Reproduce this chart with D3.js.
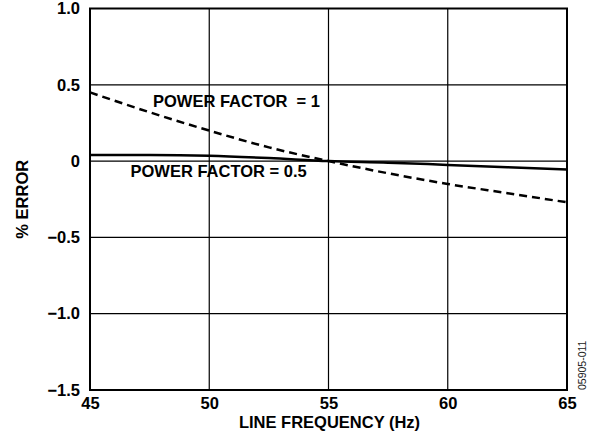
<!DOCTYPE html>
<html>
<head>
<meta charset="utf-8">
<script src="https://cdn.jsdelivr.net/npm/d3@7"></script>
<style>
  body { margin: 0; background: #fff; }
  text { font-family: "Liberation Sans", Arial, sans-serif; font-weight: bold; fill: #000; }
</style>
</head>
<body>
<svg id="chart" width="594" height="445"></svg>
<script>
// line frequency (Hz) readings
var freq = [45, 47.5, 50, 52.5, 55, 57.5, 60, 62.5, 65];
// % error, power factor = 1 (dashed)
var errPF1 = [0.45, 0.32, 0.2, 0.09, 0.0, -0.08, -0.15, -0.21, -0.27];
// % error, power factor = 0.5 (solid)
var errPF05 = [0.04, 0.04, 0.035, 0.02, 0.0, -0.01, -0.025, -0.04, -0.055];

var xTicks = [45, 50, 55, 60, 65];
var yTicks = [1.0, 0.5, 0, -0.5, -1.0, -1.5];
var yTickLabels = ["1.0", "0.5", "0", "\u22120.5", "\u22121.0", "\u22121.5"];

var margin = { left: 90, right: 27, top: 8.5, bottom: 55 };
var width = 594, height = 445;
var fontSize = "16.5px";

var svg = d3.select("#chart");

var x = d3.scaleLinear().domain([45, 65]).range([margin.left, width - margin.right]);
var y = d3.scaleLinear().domain([-1.5, 1.0]).range([height - margin.bottom, margin.top]);

// grid
var grid = svg.append("g");
grid.selectAll("line.v")
  .data(xTicks.slice(1, -1))
  .enter()
  .append("line")
  .attr("x1", function (d) { return x(d); })
  .attr("x2", function (d) { return x(d); })
  .attr("y1", y(1.0))
  .attr("y2", y(-1.5))
  .attr("stroke", "#000")
  .attr("stroke-width", 1.2);
grid.selectAll("line.h")
  .data(yTicks.slice(1, -1))
  .enter()
  .append("line")
  .attr("x1", x(45))
  .attr("x2", x(65))
  .attr("y1", function (d) { return y(d); })
  .attr("y2", function (d) { return y(d); })
  .attr("stroke", "#000")
  .attr("stroke-width", 1.2);

// curves
var line = d3.line().curve(d3.curveMonotoneX)
  .x(function (d) { return x(d[0]); })
  .y(function (d) { return y(d[1]); });

svg.append("path")
  .datum(d3.zip(freq, errPF1))
  .attr("fill", "none")
  .attr("stroke", "#000")
  .attr("stroke-width", 2.5)
  .attr("stroke-dasharray", "8,5")
  .attr("d", line);

svg.append("path")
  .datum(d3.zip(freq, errPF05))
  .attr("fill", "none")
  .attr("stroke", "#000")
  .attr("stroke-width", 2.5)
  .attr("d", line);

// frame
svg.append("rect")
  .attr("x", x(45))
  .attr("y", y(1.0))
  .attr("width", x(65) - x(45))
  .attr("height", y(-1.5) - y(1.0))
  .attr("fill", "none")
  .attr("stroke", "#000")
  .attr("stroke-width", 2);

// axes
var xAxis = d3.axisBottom(x).tickValues(xTicks).tickSize(0).tickPadding(7);
var gx = svg.append("g")
  .attr("transform", "translate(0," + y(-1.5) + ")")
  .call(xAxis);
gx.select(".domain").remove();
gx.selectAll("text").style("font-size", fontSize).attr("fill", "#000");

var yAxis = d3.axisLeft(y).tickValues(yTicks).tickSize(0).tickPadding(10)
  .tickFormat(function (d, i) { return yTickLabels[i]; });
var gy = svg.append("g")
  .attr("transform", "translate(" + x(45) + ",0)")
  .call(yAxis);
gy.select(".domain").remove();
gy.selectAll("text").style("font-size", fontSize).attr("fill", "#000");

// titles
svg.append("text")
  .attr("x", (x(45) + x(65)) / 2 + 1)
  .attr("y", 428)
  .attr("text-anchor", "middle")
  .style("font-size", fontSize)
  .text("LINE FREQUENCY (Hz)");

svg.append("text")
  .attr("transform", "translate(28," + (y(1.0) + y(-1.5)) / 2 + ") rotate(-90)")
  .attr("text-anchor", "middle")
  .style("font-size", fontSize)
  .text("% ERROR");

// series labels
svg.append("text")
  .attr("x", 153)
  .attr("y", 106.5)
  .style("font-size", fontSize)
  .style("white-space", "pre")
  .text("POWER FACTOR  = 1");

svg.append("text")
  .attr("x", 130.5)
  .attr("y", 176.5)
  .style("font-size", fontSize)
  .text("POWER FACTOR = 0.5");

// figure id
svg.append("text")
  .attr("transform", "translate(586,390) rotate(-90)")
  .attr("text-anchor", "start")
  .style("font-size", "10.5px")
  .style("font-weight", "normal")
  .style("fill", "#222")
  .text("05905-011");
</script>
</body>
</html>
